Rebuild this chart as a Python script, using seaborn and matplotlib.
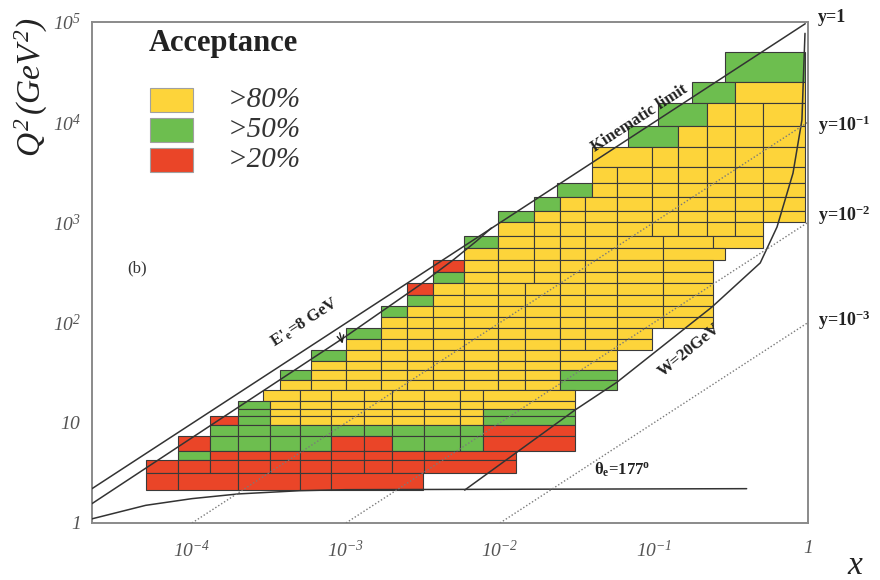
import numpy as np
import seaborn as sns
import matplotlib.pyplot as plt
from matplotlib.patches import Rectangle

# Q2 bin edges (GeV^2), from the top row down to the bottom row
q2_edges = [5.0e4, 2.5e4, 1.55e4, 9.2e3, 5.7e3, 3.6e3, 2.5e3, 1.8e3, 1.3e3, 1.0e3,
            730, 550, 420, 320, 250, 190, 145, 115, 88, 68, 53, 41, 34, 27, 21,
            16.5, 13.7, 11.6, 9.5, 7.4, 5.2, 4.25, 3.18, 2.15]

# x cell edges for every Q2 row (same order as q2_edges)
row_x_edges = [
    [0.289, 0.957],
    [0.177, 0.336, 0.957],
    [0.106, 0.221, 0.336, 0.51, 0.957],
    [0.068, 0.143, 0.221, 0.336, 0.51, 0.957],
    [0.0396, 0.097, 0.143, 0.221, 0.336, 0.51, 0.957],
    [0.0396, 0.0575, 0.097, 0.143, 0.221, 0.336, 0.51, 0.957],
    [0.0235, 0.0396, 0.0575, 0.097, 0.143, 0.221, 0.336, 0.51, 0.957],
    [0.0166, 0.0245, 0.0356, 0.0575, 0.097, 0.143, 0.221, 0.336, 0.51, 0.957],
    [0.0097, 0.0166, 0.0245, 0.0356, 0.0575, 0.097, 0.143, 0.221, 0.336, 0.51, 0.957],
    [0.0097, 0.0166, 0.0245, 0.0356, 0.0575, 0.097, 0.143, 0.221, 0.336, 0.51],
    [0.0058, 0.0097, 0.0166, 0.0245, 0.0356, 0.0575, 0.114, 0.242, 0.51],
    [0.0058, 0.0097, 0.0166, 0.0245, 0.0356, 0.0575, 0.114, 0.289],
    [0.00367, 0.0058, 0.0097, 0.0166, 0.0245, 0.0356, 0.0575, 0.114, 0.242],
    [0.00367, 0.0058, 0.0097, 0.0166, 0.0245, 0.0356, 0.0575, 0.114, 0.242],
    [0.0025, 0.00367, 0.0058, 0.0097, 0.0145, 0.0245, 0.0356, 0.0575, 0.114, 0.242],
    [0.0025, 0.00367, 0.0058, 0.0097, 0.0145, 0.0245, 0.0356, 0.0575, 0.114, 0.242],
    [0.0017, 0.0025, 0.00367, 0.0058, 0.0097, 0.0145, 0.0245, 0.0356, 0.0575, 0.114, 0.242],
    [0.0017, 0.0025, 0.00367, 0.0058, 0.0097, 0.0145, 0.0245, 0.0356, 0.0575, 0.114, 0.242],
    [0.001, 0.0017, 0.0025, 0.00367, 0.0058, 0.0097, 0.0145, 0.0245, 0.0356, 0.0575, 0.097],
    [0.001, 0.0017, 0.0025, 0.00367, 0.0058, 0.0097, 0.0145, 0.0245, 0.0356, 0.0575, 0.097],
    [5.9e-4, 1e-3, 1.7e-3, 2.5e-3, 3.67e-3, 5.8e-3, 9.7e-3, 1.45e-2, 2.45e-2, 5.75e-2],
    [5.9e-4, 1e-3, 1.7e-3, 2.5e-3, 3.67e-3, 5.8e-3, 9.7e-3, 1.45e-2, 2.45e-2, 5.75e-2],
    [3.7e-4, 5.9e-4, 1e-3, 1.7e-3, 2.5e-3, 3.67e-3, 5.8e-3, 9.7e-3, 1.45e-2, 2.45e-2, 5.75e-2],
    [3.7e-4, 5.9e-4, 1e-3, 1.7e-3, 2.5e-3, 3.67e-3, 5.8e-3, 9.7e-3, 1.45e-2, 2.45e-2, 5.75e-2],
    [2.9e-4, 5e-4, 8e-4, 1.3e-3, 2e-3, 3.2e-3, 5.5e-3, 7.8e-3, 3.07e-2],
    [2e-4, 3.2e-4, 5e-4, 8e-4, 1.3e-3, 2e-3, 3.2e-3, 5.5e-3, 7.8e-3, 3.07e-2],
    [2e-4, 3.2e-4, 5e-4, 8e-4, 1.3e-3, 2e-3, 3.2e-3, 5.5e-3, 7.8e-3, 3.07e-2],
    [1.3e-4, 2e-4, 3.2e-4, 5e-4, 8e-4, 1.3e-3, 2e-3, 3.2e-3, 5.5e-3, 7.8e-3, 3.07e-2],
    [1.3e-4, 2e-4, 3.2e-4, 5e-4, 8e-4, 1.3e-3, 2e-3, 3.2e-3, 5.5e-3, 7.8e-3, 3.07e-2],
    [8.1e-5, 1.3e-4, 2e-4, 3.2e-4, 5e-4, 8e-4, 1.3e-3, 2e-3, 3.2e-3, 5.5e-3, 7.8e-3, 3.07e-2],
    [8.1e-5, 1.3e-4, 2e-4, 3.2e-4, 5e-4, 8e-4, 1.3e-3, 2e-3, 3.2e-3, 1.27e-2],
    [5e-5, 8.1e-5, 1.3e-4, 2e-4, 3.2e-4, 5e-4, 8e-4, 1.3e-3, 2e-3, 3.2e-3, 1.27e-2],
    [5e-5, 8.1e-5, 2e-4, 5e-4, 8e-4, 3.16e-3],
]

# acceptance class of every cell: Y >80%, G >50%, R >20%
row_acc = [
    "G", "GY", "GYYY", "GYYYY", "YYYYYY", "YYYYYYY", "GYYYYYYY", "GYYYYYYYY",
    "GYYYYYYYYY", "YYYYYYYYY", "GYYYYYYY", "YYYYYYY", "RYYYYYYY", "GYYYYYYY",
    "RYYYYYYYY", "GYYYYYYYY", "GYYYYYYYYY", "YYYYYYYYYY", "GYYYYYYYYY",
    "YYYYYYYYYY", "GYYYYYYYY", "YYYYYYYYY", "GYYYYYYYYG", "YYYYYYYYYG",
    "YYYYYYYY", "GYYYYYYYY", "GYYYYYYYG", "RGYYYYYYYG", "GGGGGGGGGR",
    "RGGGGRRGGGR", "GRRRRRRRR", "RRRRRRRRRR", "RRRRR",
]

acc_colors = {"Y": "#FDD43A", "G": "#6DBE4F", "R": "#EA4528"}
acc_labels = [("Y", ">80%"), ("G", ">50%"), ("R", ">20%")]

# kinematic lines
kin_x, kin_q2 = [2.24e-5, 0.96], [2.2, 9.6e4]
e8_x = [2.24e-5, 1e-4, 1e-3, 3e-3, 5e-3, 7e-3, 8.8e-3]
e8_q2 = [1.56, 7.1, 73, 236, 425, 646, 880]
theta_x = [2.24e-5, 5e-5, 1e-4, 2e-4, 5e-4, 1e-3, 0.4]
theta_q2 = [1.1, 1.5, 1.75, 1.95, 2.1, 2.15, 2.2]
w20_x = [5.9e-3, 0.0307, 0.0575, 0.238, 0.49, 0.63, 0.80, 0.914, 0.957]
w20_q2 = [2.13, 13.4, 25.4, 143, 394, 900, 3100, 10500, 77000]
yline_x = [[1e-4, 1.0], [1e-3, 1.0], [1e-2, 1.0]]
yline_q2 = [[1.0, 1e4], [1.0, 1e3], [1.0, 1e2]]
y_labels = ["y=1", "y=10$^{\\mathbf{-1}}$", "y=10$^{\\mathbf{-2}}$", "y=10$^{\\mathbf{-3}}$"]
y_label_pos = [1.008, 0.794, 0.615, 0.405]

sns.set_theme(style="white")
plt.rcParams['font.family'] = ['Liberation Serif', 'DejaVu Serif']
plt.rcParams['mathtext.fontset'] = 'custom'
plt.rcParams['mathtext.rm'] = 'Liberation Serif:italic'
plt.rcParams['mathtext.it'] = 'Liberation Serif:italic'
plt.rcParams['mathtext.bf'] = 'Liberation Serif:bold'
plt.rcParams['axes.unicode_minus'] = False

fig = plt.figure(figsize=(8.8, 5.8), dpi=100)
ax = fig.add_axes([0.1045, 0.0983, 0.8136, 0.8638])
ax.set_xscale('log')
ax.set_yscale('log')

# acceptance cells, one barh call per Q2 row
for i, (edges, acc) in enumerate(zip(row_x_edges, row_acc)):
    q_hi, q_lo = q2_edges[i], q2_edges[i + 1]
    edges = np.array(edges)
    ax.barh(y=q_lo, width=np.diff(edges), left=edges[:-1], height=q_hi - q_lo,
            align='edge', color=[acc_colors[a] for a in acc],
            edgecolor='#3a3a3a', linewidth=0.8, zorder=2)

# kinematic lines
line_kw = dict(color='#333333', linewidth=1.1, estimator=None, sort=False, ax=ax, zorder=3)
sns.lineplot(x=kin_x, y=kin_q2, **line_kw)
sns.lineplot(x=e8_x, y=e8_q2, **line_kw)
sns.lineplot(x=theta_x, y=theta_q2, **line_kw)
sns.lineplot(x=w20_x, y=w20_q2, **line_kw)
for xs, qs in zip(yline_x, yline_q2):
    sns.lineplot(x=xs, y=qs, color='#7a7a7a', linewidth=1.0, linestyle=(0, (1, 1.5)),
                 estimator=None, sort=False, ax=ax, zorder=3)

ax.set_xlim(2.24e-5, 1.0)
ax.set_ylim(1, 1e5)

ax.set_xticks([1e-4, 1e-3, 1e-2, 1e-1, 1])
ax.set_xticklabels(['$10^{-4}$', '$10^{-3}$', '$10^{-2}$', '$10^{-1}$', '$1$'])
ax.set_yticks([1, 10, 100, 1e3, 1e4, 1e5])
ax.set_yticklabels(['$1$', '$10$', '$10^{2}$', '$10^{3}$', '$10^{4}$', '$10^{5}$'])
ax.xaxis.set_minor_formatter(plt.NullFormatter())
ax.yaxis.set_minor_formatter(plt.NullFormatter())
ax.tick_params(which='both', direction='in', top=False, right=False, colors='#777777',
               labelcolor='#555555', labelsize=14)
ax.tick_params(which='major', length=9, width=1.0)
ax.tick_params(which='minor', length=5, width=0.8)
ax.tick_params(axis='x', pad=12)
ax.tick_params(axis='y', pad=8)
for sp in ax.spines.values():
    sp.set_color('#8a8a8a')
    sp.set_linewidth(1.4)

# axis titles
fig.text(0.036, 0.85, r'$Q^2\,(GeV^2)$', rotation=90, ha='center', va='center',
         fontsize=24, color='#222222')
fig.text(0.972, 0.025, r'$x$', ha='center', va='center', fontsize=24, color='#222222')

# legend
ax.text(0.183, 0.958, 'Acceptance', transform=ax.transAxes, ha='center', va='center',
        fontsize=22, fontweight='bold', color='#222222')
for k, (code, lab) in enumerate(acc_labels):
    yb = 0.820 - 0.0597 * k
    ax.add_patch(Rectangle((0.081, yb), 0.060, 0.048, transform=ax.transAxes,
                           facecolor=acc_colors[code], edgecolor='#a0a0a0', lw=0.8, zorder=4))
    ax.text(0.19, yb + 0.024, lab, transform=ax.transAxes, ha='left', va='center',
            fontsize=21, fontstyle='italic', color='#333333')

# annotations
ax.text(0.081, 1.1e4, 'Kinematic limit', rotation=33, ha='center', va='center',
        fontsize=12, fontweight='bold', color='#222222', zorder=5)
ax.text(5.4e-4, 101, "E'$_{\\mathbf{e}}$=8 GeV", rotation=33, ha='center', va='center',
        fontsize=12, fontweight='bold', color='#222222', zorder=5)
ax.annotate('', xy=(9.6e-4, 58), xytext=(9.0e-4, 84),
            arrowprops=dict(arrowstyle='->', color='#222222', lw=1.0), zorder=5)
ax.text(0.17, 53, 'W=20GeV', rotation=39, ha='center', va='center',
        fontsize=12, fontweight='bold', color='#222222', zorder=5)
ax.text(0.062, 3.4, '$\\mathbf{\\theta_e}$=177$^{\\mathbf{o}}$', ha='center', va='center',
        fontsize=12, fontweight='bold', color='#222222', zorder=5)
ax.text(4.4e-5, 350, '(b)', ha='center', va='center', fontsize=12, color='#333333')

for lab, yp in zip(y_labels, y_label_pos):
    ax.text(1.014, yp, lab, transform=ax.transAxes, ha='left', va='center',
            fontsize=13, fontweight='bold', color='#222222', clip_on=False)

fig.savefig('out.png', dpi=100)
